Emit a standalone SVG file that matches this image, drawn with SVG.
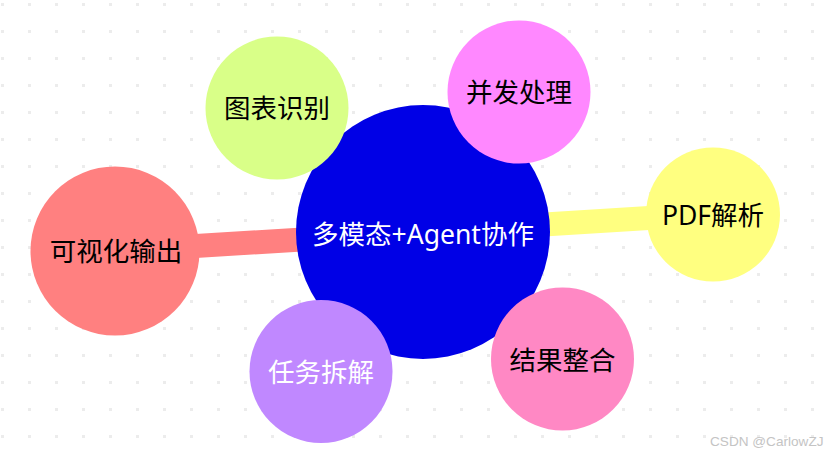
<svg xmlns="http://www.w3.org/2000/svg" width="837" height="457" viewBox="0 0 837 457">
  <defs>
    <pattern id="dots" x="0" y="0" width="27" height="27" patternUnits="userSpaceOnUse">
      <rect x="1" y="3" width="3" height="3" fill="#ececec"/>
    </pattern>
    <style>
      .lbl { font-family: "Noto Sans", "Noto Sans CJK SC", sans-serif; font-size: 26.5px; text-anchor: middle; fill: #000000; }
      .w { fill: #ffffff; }
      .bar { stroke-width: 24; stroke-linecap: butt; fill: none; }
      .wm { font-family: "Liberation Sans", "DejaVu Sans", sans-serif; font-size: 13.6px; fill: #c4c4c4; }
    </style>
  </defs>
  <rect width="837" height="457" fill="#ffffff"/>
  <rect width="837" height="457" fill="url(#dots)"/>

  <g id="connectors">
    <line class="bar" x1="115" y1="251" x2="423" y2="232" stroke="#ff8080"/>
    <line class="bar" x1="423" y1="232" x2="713" y2="214" stroke="#ffff80"/>
  </g>

  <g id="center">
    <circle cx="423" cy="232" r="127" fill="#0000e6"/>
    <text class="lbl w" x="423" y="244">多模态+Agent协作</text>
  </g>
  <g id="n-chart">
    <circle cx="277" cy="108" r="71.5" fill="#d9ff88"/>
    <text class="lbl" x="277" y="118">图表识别</text>
  </g>
  <g id="n-concurrent">
    <circle cx="519" cy="92" r="71.5" fill="#ff88ff"/>
    <text class="lbl" x="519" y="102">并发处理</text>
  </g>
  <g id="n-pdf">
    <circle cx="713" cy="214.5" r="67" fill="#ffff80"/>
    <text class="lbl" x="713" y="225">PDF解析</text>
  </g>
  <g id="n-result">
    <circle cx="562.5" cy="359" r="71.5" fill="#ff88c4"/>
    <text class="lbl" x="562.5" y="369.5">结果整合</text>
  </g>
  <g id="n-task">
    <circle cx="321" cy="371.5" r="71.5" fill="#c088ff"/>
    <text class="lbl w" x="321" y="381.5">任务拆解</text>
  </g>
  <g id="n-visual">
    <circle cx="115" cy="251" r="84.5" fill="#ff8080"/>
    <text class="lbl" x="116" y="261">可视化输出</text>
  </g>

  <text class="wm" x="710" y="446">CSDN @CarlowZJ</text>
</svg>
